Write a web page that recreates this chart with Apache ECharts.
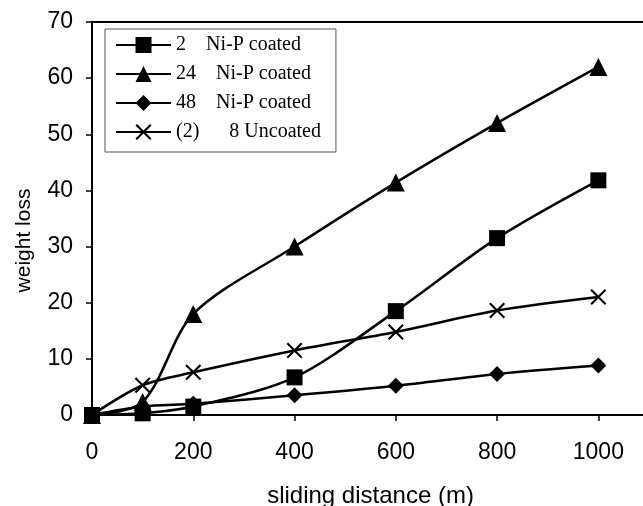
<!DOCTYPE html>
<html><head><meta charset="utf-8">
<script src="https://cdn.jsdelivr.net/npm/echarts@6/dist/echarts.min.js"></script>
<style>html,body{margin:0;padding:0;background:#fff}#c{width:643px;height:506px}</style>
</head><body><div id="c"></div>
<script>
const distances = [0, 100, 200, 400, 600, 800, 1000];
const seriesNames = ['2    Ni-P coated', '24    Ni-P coated', '48    Ni-P coated', '(2)      8 Uncoated'];
const coated2 = [0, 0.3, 1.5, 6.7, 18.5, 31.5, 41.8];
const coated24 = [0, 2.3, 18, 30, 41.4, 52, 62];
const coated48 = [0, 1.5, 2, 3.5, 5.2, 7.3, 8.8];
const uncoated8 = [0, 5.3, 7.6, 11.5, 14.8, 18.6, 21];
const xTicks = [0, 200, 400, 600, 800, 1000];
const yTicks = [0, 10, 20, 30, 40, 50, 60, 70];

const crossPath = 'path://M0,1.5L1.5,0L8,6.5L14.5,0L16,1.5L9.5,8L16,14.5L14.5,16L8,9.5L1.5,16L0,14.5L6.5,8Z';
const symbols = ['rect', 'triangle', 'diamond', crossPath];
const sizes = [16, 18, 16, 16];
const valueSets = [coated2, coated24, coated48, uncoated8];

const chart = echarts.init(document.getElementById('c'));
chart.setOption({
  animation: false,
  grid: { left: 92, top: 22, bottom: 91, width: 557, outerBoundsMode: 'none', containLabel: false,
    show: true, borderColor: '#000', borderWidth: 2, backgroundColor: '#fff' },
  legend: {
    left: 105, top: 29, orient: 'vertical', itemWidth: 55, itemHeight: 20, itemGap: 9,
    padding: [6, 15, 10, 10],
    borderColor: '#555', borderWidth: 1,
    textStyle: { fontFamily: 'Liberation Serif', fontSize: 20, color: '#000' },
    data: seriesNames
  },
  xAxis: {
    type: 'value', min: 0, max: 1100, interval: 200,
    name: 'sliding distance (m)', nameLocation: 'middle', nameGap: 69,
    nameTextStyle: { fontFamily: 'Liberation Sans', fontSize: 24, color: '#000' },
    axisLine: { lineStyle: { color: '#000', width: 2 } },
    axisTick: { show: true, length: 6, lineStyle: { color: '#000', width: 1.5 } },
    axisLabel: { fontFamily: 'Liberation Sans', fontSize: 23, color: '#000', margin: 26,
      formatter: v => xTicks.includes(v) ? String(v) : '' },
    splitLine: { show: false }
  },
  yAxis: {
    type: 'value', min: 0, max: 70, interval: 10,
    name: 'weight loss', nameLocation: 'middle', nameGap: 57, nameRotate: 90,
    nameTextStyle: { fontFamily: 'Liberation Sans', fontSize: 21, color: '#000', padding: [0, 44, 0, 0] },
    axisLine: { show: true, lineStyle: { color: '#000', width: 2 } },
    axisTick: { show: true, length: 6, lineStyle: { color: '#000', width: 1.5 } },
    axisLabel: { fontFamily: 'Liberation Sans', fontSize: 23, color: '#000', margin: 19,
      formatter: v => yTicks.includes(v) ? String(v) : '' },
    splitLine: { show: false }
  },
  series: seriesNames.map((n, i) => ({
    name: n, type: 'line', smooth: 0.3,
    data: distances.map((d, j) => [d, valueSets[i][j]]),
    symbol: symbols[i], symbolSize: sizes[i], showAllSymbol: true,
    lineStyle: { color: '#000', width: 2.5 },
    itemStyle: { color: '#000', borderWidth: 0 },
    z: 2
  }))
});
</script></body></html>
